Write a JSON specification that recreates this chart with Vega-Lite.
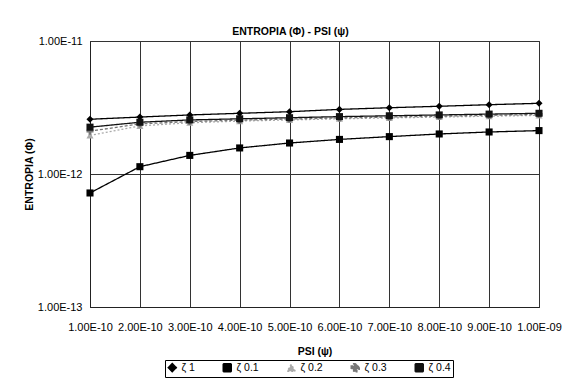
{
  "$schema": "https://vega.github.io/schema/vega-lite/v6.json",
  "width": 449,
  "height": 266,
  "autosize": "none",
  "padding": {"left": 90, "top": 41, "right": 28, "bottom": 72},
  "background": "white",
  "config": {
    "font": "Liberation Sans",
    "view": {"stroke": "#444", "strokeWidth": 1},
    "axis": {"labelFont": "Liberation Sans", "titleFont": "Liberation Sans", "labelColor": "black", "titleColor": "black", "labelFontSize": 11, "titleFontSize": 10.5, "titleFontWeight": "bold", "gridColor": "#333", "gridOpacity": 1, "domainColor": "#222", "tickSize": 0}
  },
  "title": {"text": "ENTROPIA (Φ) - PSI (ψ)", "fontSize": 10.5, "fontWeight": "bold", "font": "Liberation Sans", "color": "black", "anchor": "middle", "dx": -24, "offset": -2},
  "data": {"values": [
    {"psi": 1e-10, "series": "ζ 1", "v": 2.58e-12},
    {"psi": 2e-10, "series": "ζ 1", "v": 2.68e-12},
    {"psi": 3e-10, "series": "ζ 1", "v": 2.78e-12},
    {"psi": 4e-10, "series": "ζ 1", "v": 2.86e-12},
    {"psi": 5e-10, "series": "ζ 1", "v": 2.94e-12},
    {"psi": 6e-10, "series": "ζ 1", "v": 3.06e-12},
    {"psi": 7e-10, "series": "ζ 1", "v": 3.15e-12},
    {"psi": 8e-10, "series": "ζ 1", "v": 3.23e-12},
    {"psi": 9e-10, "series": "ζ 1", "v": 3.32e-12},
    {"psi": 1e-9, "series": "ζ 1", "v": 3.40e-12},
    {"psi": 1e-10, "series": "ζ 0.1", "v": 7.2e-13},
    {"psi": 2e-10, "series": "ζ 0.1", "v": 1.135e-12},
    {"psi": 3e-10, "series": "ζ 0.1", "v": 1.38e-12},
    {"psi": 4e-10, "series": "ζ 0.1", "v": 1.57e-12},
    {"psi": 5e-10, "series": "ζ 0.1", "v": 1.71e-12},
    {"psi": 6e-10, "series": "ζ 0.1", "v": 1.82e-12},
    {"psi": 7e-10, "series": "ζ 0.1", "v": 1.91e-12},
    {"psi": 8e-10, "series": "ζ 0.1", "v": 2.0e-12},
    {"psi": 9e-10, "series": "ζ 0.1", "v": 2.07e-12},
    {"psi": 1e-9, "series": "ζ 0.1", "v": 2.12e-12},
    {"psi": 1e-10, "series": "ζ 0.2", "v": 1.95e-12},
    {"psi": 2e-10, "series": "ζ 0.2", "v": 2.30e-12},
    {"psi": 3e-10, "series": "ζ 0.2", "v": 2.43e-12},
    {"psi": 4e-10, "series": "ζ 0.2", "v": 2.50e-12},
    {"psi": 5e-10, "series": "ζ 0.2", "v": 2.55e-12},
    {"psi": 6e-10, "series": "ζ 0.2", "v": 2.60e-12},
    {"psi": 7e-10, "series": "ζ 0.2", "v": 2.64e-12},
    {"psi": 8e-10, "series": "ζ 0.2", "v": 2.68e-12},
    {"psi": 9e-10, "series": "ζ 0.2", "v": 2.72e-12},
    {"psi": 1e-9, "series": "ζ 0.2", "v": 2.76e-12},
    {"psi": 1e-10, "series": "ζ 0.3", "v": 2.10e-12},
    {"psi": 2e-10, "series": "ζ 0.3", "v": 2.38e-12},
    {"psi": 3e-10, "series": "ζ 0.3", "v": 2.48e-12},
    {"psi": 4e-10, "series": "ζ 0.3", "v": 2.54e-12},
    {"psi": 5e-10, "series": "ζ 0.3", "v": 2.59e-12},
    {"psi": 6e-10, "series": "ζ 0.3", "v": 2.64e-12},
    {"psi": 7e-10, "series": "ζ 0.3", "v": 2.68e-12},
    {"psi": 8e-10, "series": "ζ 0.3", "v": 2.72e-12},
    {"psi": 9e-10, "series": "ζ 0.3", "v": 2.76e-12},
    {"psi": 1e-9, "series": "ζ 0.3", "v": 2.80e-12},
    {"psi": 1e-10, "series": "ζ 0.4", "v": 2.25e-12},
    {"psi": 2e-10, "series": "ζ 0.4", "v": 2.45e-12},
    {"psi": 3e-10, "series": "ζ 0.4", "v": 2.55e-12},
    {"psi": 4e-10, "series": "ζ 0.4", "v": 2.60e-12},
    {"psi": 5e-10, "series": "ζ 0.4", "v": 2.65e-12},
    {"psi": 6e-10, "series": "ζ 0.4", "v": 2.70e-12},
    {"psi": 7e-10, "series": "ζ 0.4", "v": 2.74e-12},
    {"psi": 8e-10, "series": "ζ 0.4", "v": 2.78e-12},
    {"psi": 9e-10, "series": "ζ 0.4", "v": 2.82e-12},
    {"psi": 1e-9, "series": "ζ 0.4", "v": 2.86e-12}
  ]},
  "mark": {"type": "line", "strokeWidth": 1.3, "point": {"filled": true, "size": 50}},
  "encoding": {
    "x": {"field": "psi", "type": "quantitative", "scale": {"domain": [1e-10, 1e-9], "nice": false, "zero": false},
      "axis": {"title": "PSI (ψ)", "values": [1e-10, 2e-10, 3e-10, 4e-10, 5e-10, 6e-10, 7e-10, 8e-10, 9e-10, 1e-9], "labelExpr": "datum.value > 9.99e-10 ? '1.00E-09' : replace(format(datum.value, '.2e'), 'e', 'E')", "labelPadding": 14, "titlePadding": 14, "labelOverlap": false, "labelFlush": false, "grid": true}},
    "y": {"field": "v", "type": "quantitative", "scale": {"type": "log", "domain": [1e-13, 1e-11], "nice": false},
      "axis": {"title": "ENTROPIA (Φ)", "values": [1e-13, 1e-12, 1e-11], "labelExpr": "replace(format(datum.value, '.2e'), 'e', 'E')", "labelPadding": 8, "titlePadding": 3, "grid": true}},
    "color": {"field": "series", "type": "nominal", "scale": {"domain": ["ζ 1", "ζ 0.1", "ζ 0.2", "ζ 0.3", "ζ 0.4"], "range": ["#000000", "#000000", "#aaaaaa", "#777777", "#111111"]},
      "legend": {"title": null, "orient": "none", "legendX": 75, "legendY": 319, "direction": "horizontal", "columns": 5, "strokeColor": "#000", "padding": 2, "labelFontSize": 10.5, "labelFont": "Liberation Sans", "labelColor": "black", "columnPadding": 25, "symbolSize": 64, "labelOffset": 4}},
    "shape": {"field": "series", "type": "nominal", "scale": {"domain": ["ζ 1", "ζ 0.1", "ζ 0.2", "ζ 0.3", "ζ 0.4"], "range": ["diamond", "square", "triangle-up", "cross", "square"]}, "legend": null},
    "strokeDash": {"field": "series", "type": "nominal", "scale": {"domain": ["ζ 1", "ζ 0.1", "ζ 0.2", "ζ 0.3", "ζ 0.4"], "range": [[1, 0], [1, 0], [2, 2], [3, 2], [1, 0]]}, "legend": null}
  }
}
